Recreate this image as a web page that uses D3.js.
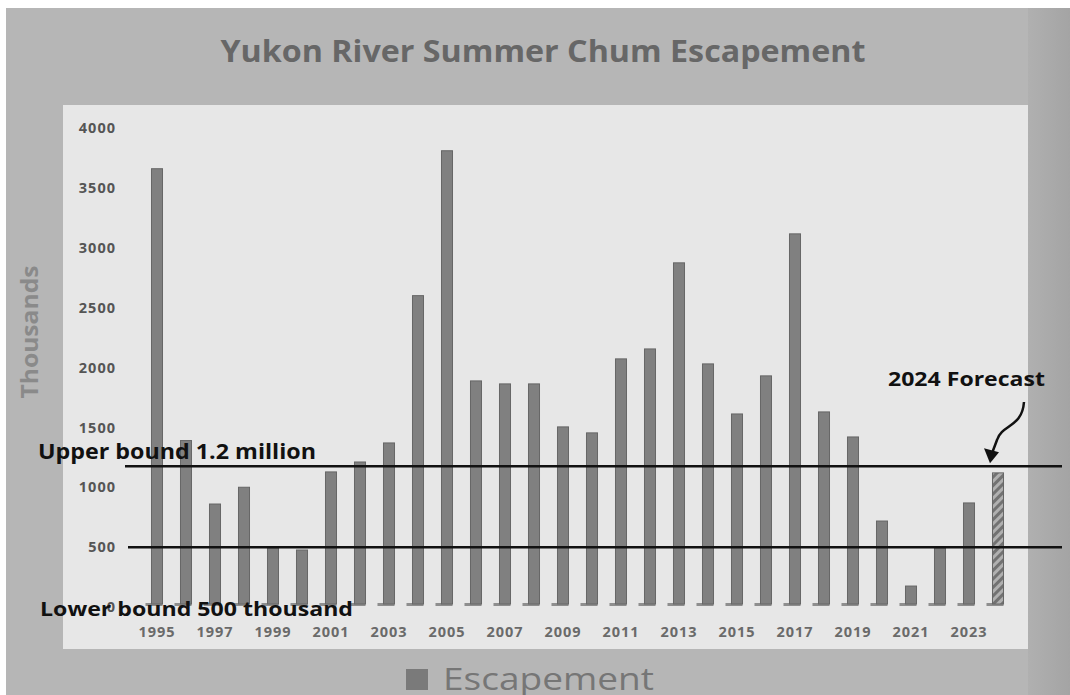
<!doctype html>
<html>
<head>
<meta charset="UTF-8">
<title>Yukon River Summer Chum Escapement</title>
<script src="https://d3js.org/d3.v7.min.js"></script>
<style>
  body { margin: 0; background: #fff; }
  svg text { font-family: "Open Sans", sans-serif; }
</style>
</head>
<body>
<svg id="chart" width="1070" height="695"></svg>
<script>
// escapement in thousands
var years = [1995, 1996, 1997, 1998, 1999, 2000, 2001, 2002, 2003, 2004,
             2005, 2006, 2007, 2008, 2009, 2010, 2011, 2012, 2013, 2014,
             2015, 2016, 2017, 2018, 2019, 2020, 2021, 2022, 2023, 2024];
var escapement = [3660, 1390, 860, 1000, 493, 476, 1128, 1211, 1370, 2600,
                  3810, 1888, 1863, 1863, 1504, 1454, 2072, 2155, 2874, 2030,
                  1612, 1930, 3116, 1629, 1420, 718, 175, 493, 869, 1120];
var forecastYear = 2024;
var yTicks = [0, 500, 1000, 1500, 2000, 2500, 3000, 3500, 4000];
var xTickYears = [1995, 1997, 1999, 2001, 2003, 2005, 2007, 2009, 2011, 2013, 2015, 2017, 2019, 2021, 2023];
var boundValues = [1175, 500];
var boundLabels = ["Upper bound 1.2 million", "Lower bound 500 thousand"];

var data = years.map(function (y, i) { return { year: y, value: escapement[i] }; });

var svg = d3.select("#chart");

// backgrounds
svg.append("rect").attr("x", 6).attr("y", 8).attr("width", 1064).attr("height", 687).attr("fill", "#b6b6b6");
var grad = svg.append("defs").append("linearGradient").attr("id", "edge");
grad.append("stop").attr("offset", "0%").attr("stop-color", "#b0b0b0");
grad.append("stop").attr("offset", "100%").attr("stop-color", "#a4a4a4");
svg.append("rect").attr("x", 1028).attr("y", 8).attr("width", 42).attr("height", 687).attr("fill", "url(#edge)");
svg.append("rect").attr("x", 63).attr("y", 105).attr("width", 965).attr("height", 544).attr("fill", "#e7e7e7");

var defs = svg.append("defs");
var pat = defs.append("pattern").attr("id", "hatch").attr("patternUnits", "userSpaceOnUse")
    .attr("width", 6).attr("height", 6).attr("patternTransform", "rotate(45)");
pat.append("rect").attr("width", 6).attr("height", 6).attr("fill", "#b0b0b0");
pat.append("rect").attr("width", 3).attr("height", 6).attr("fill", "#727272");

var x = d3.scaleBand().domain(years).range([142.5, 1012.5]).paddingInner(0.62).paddingOuter(0.31);
var y = d3.scaleLinear().domain([0, 4000]).range([607, 128]);

// title
svg.append("text").attr("x", 543).attr("y", 62).attr("text-anchor", "middle")
    .attr("font-size", 30).attr("font-weight", 700).attr("fill", "#676767")
    .attr("textLength", 645).attr("lengthAdjust", "spacingAndGlyphs")
    .text("Yukon River Summer Chum Escapement");

// y axis title
svg.append("text").attr("transform", "translate(38,332) rotate(-90)").attr("text-anchor", "middle")
    .attr("font-size", 23).attr("font-weight", 700).attr("fill", "#8a8a8a")
    .attr("textLength", 133).attr("lengthAdjust", "spacingAndGlyphs")
    .text("Thousands");

// y axis (no line, no ticks)
var yAxis = svg.append("g").attr("transform", "translate(116,0)")
    .call(d3.axisLeft(y).tickValues(yTicks).tickSize(0).tickPadding(0).tickFormat(d3.format("d")));
yAxis.select(".domain").remove();
yAxis.selectAll("text").attr("font-size", 14.5).attr("font-weight", 700).attr("fill", "#555")
    .attr("letter-spacing", 1).attr("font-family", "Open Sans, sans-serif");

// x axis labels
var xAxis = svg.append("g").attr("transform", "translate(0,627)")
    .call(d3.axisBottom(x).tickValues(xTickYears).tickSize(0).tickPadding(0));
xAxis.select(".domain").remove();
xAxis.selectAll("text").attr("font-size", 14.5).attr("font-weight", 700).attr("fill", "#6a6a6a")
    .attr("letter-spacing", 1).attr("font-family", "Open Sans, sans-serif");

// bar floors (3d base)
svg.selectAll(".floor").data(data).enter().append("rect").attr("class", "floor")
    .attr("x", function (d) { return x(d.year) - 6; })
    .attr("y", y(0) - 4)
    .attr("width", function () { return x.bandwidth() + 6; })
    .attr("height", 3)
    .attr("fill", "#8e8e8e");

// bars
svg.selectAll(".bar").data(data).enter().append("rect").attr("class", "bar")
    .attr("x", function (d) { return x(d.year); })
    .attr("y", function (d) { return y(d.value); })
    .attr("width", x.bandwidth())
    .attr("height", function (d) { return y(0) - 3 - y(d.value); })
    .attr("fill", function (d) { return d.year === forecastYear ? "url(#hatch)" : "#808080"; })
    .attr("stroke", "#666")
    .attr("stroke-width", 1);

// bound lines
svg.selectAll(".bound").data(boundValues).enter().append("line").attr("class", "bound")
    .attr("x1", function (d, i) { return i === 0 ? 125 : 128; })
    .attr("x2", 1062)
    .attr("y1", function (d) { return y(d); })
    .attr("y2", function (d) { return y(d); })
    .attr("stroke", "#111").attr("stroke-width", 2.5);

// bound labels
svg.append("text").attr("x", 38).attr("y", 459).attr("font-size", 21).attr("font-weight", 700)
    .attr("fill", "#111").attr("textLength", 278).attr("lengthAdjust", "spacingAndGlyphs")
    .text(boundLabels[0]);
svg.append("text").attr("x", 40).attr("y", 616).attr("font-size", 20).attr("font-weight", 700)
    .attr("fill", "#111").attr("textLength", 313).attr("lengthAdjust", "spacingAndGlyphs")
    .text(boundLabels[1]);

// forecast annotation
svg.append("text").attr("x", 888).attr("y", 386).attr("font-size", 20).attr("font-weight", 700)
    .attr("fill", "#111").attr("textLength", 157).attr("lengthAdjust", "spacingAndGlyphs")
    .text(forecastYear + " Forecast");

var tipX = x(forecastYear) + x.bandwidth() / 2 - 8;
var tipY = y(boundValues[0]) - 3;
svg.append("path")
    .attr("d", "M1024,402 C1022,428 1002,424 997,440 L" + (tipX + 2) + "," + (tipY - 10))
    .attr("fill", "none").attr("stroke", "#111").attr("stroke-width", 2.5);
svg.append("path")
    .attr("d", "M" + tipX + "," + tipY + " L" + (tipX - 6) + "," + (tipY - 15) + " L" + (tipX + 9) + "," + (tipY - 11) + " Z")
    .attr("fill", "#111");

// legend
svg.append("rect").attr("x", 406).attr("y", 669).attr("width", 22).attr("height", 21).attr("fill", "#7a7a7a");
svg.append("text").attr("x", 443).attr("y", 690).attr("font-size", 31).attr("fill", "#767676")
    .attr("textLength", 211).attr("lengthAdjust", "spacingAndGlyphs")
    .text("Escapement");
</script>
</body>
</html>
